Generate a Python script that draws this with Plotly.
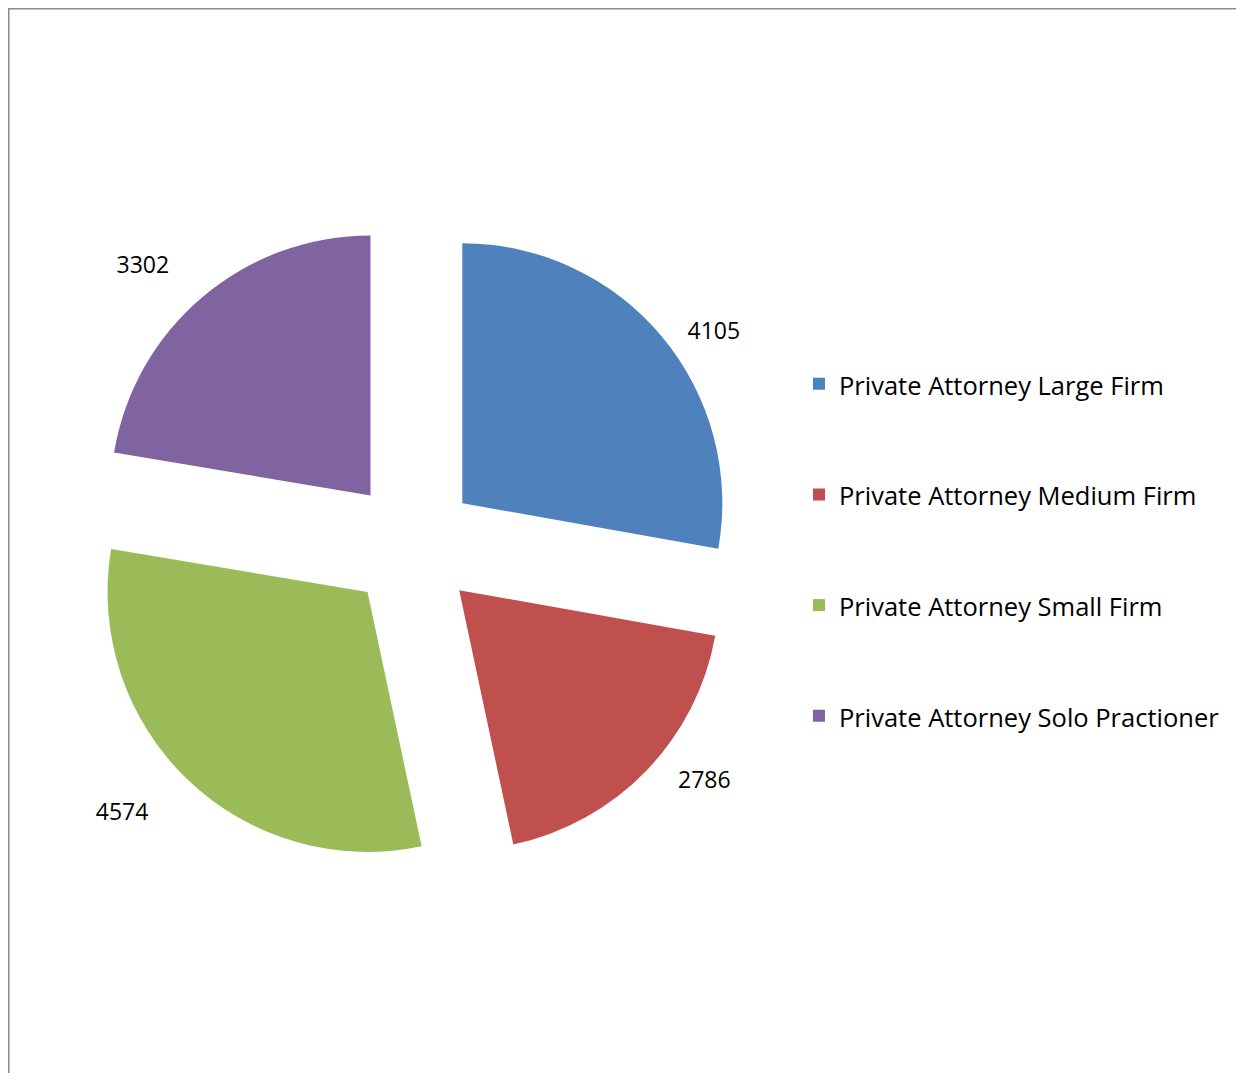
import plotly.graph_objects as go

# Data
categories = [
    'Private Attorney Large Firm',
    'Private Attorney Medium Firm',
    'Private Attorney Small Firm',
    'Private Attorney Solo Practioner',
]
counts = [4105, 2786, 4574, 3302]
colors = ['#4F81BD', '#C0504D', '#9BBB59', '#8064A2']

# page body has an 8px margin, so keep the figure inside the 1244x1081 window
W, H = 1228, 1065
OFF = 8


def px_x(x):
    return (x - OFF) / W


def px_y(y):
    return 1 - (y - OFF) / H


# blank lines around each name give the tall legend rows of the original
legend_names = ['<br><span style="font-size:25.5px">%s</span><br>' % c for c in categories]

# non-breaking spaces / spare lines push the value labels a bit further out
nb = '\u00a0'
label_fmt = [
    nb * 3 + '%{value}',
    nb * 4 + '%{value}',
    nb + '<br>%{value}' + nb * 4,
    '%{value}' + nb * 3 + '<br>' + nb,
]

fig = go.Figure(go.Pie(
    labels=legend_names,
    values=counts,
    sort=False,
    direction='clockwise',
    rotation=0,
    pull=0.25,
    marker=dict(colors=colors, line=dict(width=0)),
    texttemplate=label_fmt,
    textposition='outside',
    outsidetextfont=dict(family='Open Sans', size=23, color='black'),
    hoverinfo='skip',
    domain=dict(x=[px_x(87.5), px_x(737.5)], y=[px_y(870), px_y(220)]),
))

fig.update_layout(
    width=W,
    height=H,
    margin=dict(l=0, r=0, t=0, b=0, autoexpand=False),
    paper_bgcolor='white',
    font=dict(family='Open Sans', color='black'),
    showlegend=True,
    legend=dict(
        x=px_x(799),
        xanchor='left',
        y=px_y(550),
        yanchor='middle',
        font=dict(family='Open Sans', size=27.6, color='black'),
        bgcolor='rgba(0,0,0,0)',
    ),
    shapes=[
        # chart frame, only its left and top edges are in view
        dict(type='rect', xref='paper', yref='paper',
             x0=0.5 / W, x1=1.05, y0=-0.05, y1=1 - 0.5 / H,
             line=dict(color='#8A8A8A', width=2)),
    ],
)

fig.write_html('out.html')
